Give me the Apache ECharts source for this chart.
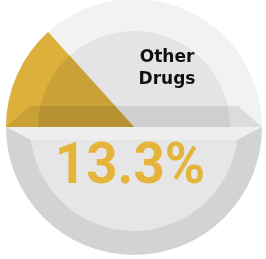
<!DOCTYPE html>
<html>
<head>
<meta charset="utf-8">
<script src="https://cdn.jsdelivr.net/npm/echarts@6/dist/echarts.min.js"></script>
<style>
html, body { margin: 0; padding: 0; background: #fff; }
#chart { width: 266px; height: 259px; }
</style>
</head>
<body>
<div id="chart"></div>
<script>
// data
var categories = ['Other Drugs', 'All Other'];
var shares = [13.3, 86.7];
var halves = [50, 50];

var chart = echarts.init(document.getElementById('chart'));

// disc geometry
var cx = 134, cy = 127, R = 128, rTop = 96, rBot = 104;

function pie(name, radius, data, colors, z) {
    return {
        type: 'pie',
        name: name,
        center: [cx, cy],
        radius: [0, radius],
        startAngle: 180,
        clockwise: true,
        silent: true,
        animation: false,
        z: z,
        label: { show: false },
        labelLine: { show: false },
        emphasis: { disabled: true },
        itemStyle: { borderWidth: 0 },
        data: data.map(function (v, i) {
            return { value: v, name: i === 0 ? categories[0] : categories[1], itemStyle: { color: colors[i] } };
        })
    };
}

var option = {
    backgroundColor: '#fff',
    series: [
        pie('outer', R, halves, ['#f2f2f2', '#d3d3d3'], 1),
        pie('innerTop', rTop, halves, ['#e4e4e4', 'rgba(0,0,0,0)'], 2),
        pie('innerBottom', rBot, halves.slice().reverse(), ['rgba(0,0,0,0)', '#e6e6e6'], 2),
        pie('share', R, shares, ['#dcb03b', 'rgba(0,0,0,0)'], 3),
        pie('shareInner', rTop, shares, ['#caa136', 'rgba(0,0,0,0)'], 4)
    ],
    graphic: [
        {
            type: 'polygon', z: 10, silent: true,
            shape: { points: [[cx - R, cy], [cx + R, cy], [cx + 104, cy - 21], [cx - 104, cy - 21]] },
            style: { fill: 'rgba(0,0,0,0.09)' }
        },
        {
            type: 'polygon', z: 10, silent: true,
            shape: { points: [[cx - R, cy], [cx + R, cy], [cx + 103, cy + 13], [cx - 103, cy + 13]] },
            style: { fill: '#eeeeee' }
        },
        {
            type: 'text', z: 20, silent: true,
            x: 167, y: 69,
            style: {
                text: 'Other\nDrugs',
                font: 'bold 17px "DejaVu Sans"',
                lineHeight: 22,
                fill: '#111',
                textAlign: 'center',
                textVerticalAlign: 'middle'
            }
        },
        {
            type: 'text', z: 20, silent: true,
            x: 130, y: 169, scaleX: 0.96,
            style: {
                text: shares[0].toFixed(1) + '%',
                font: 'bold 57px Roboto',
                fill: '#e5b43b',
                textAlign: 'center',
                textVerticalAlign: 'middle'
            }
        }
    ]
};

chart.setOption(option);
</script>
</body>
</html>
